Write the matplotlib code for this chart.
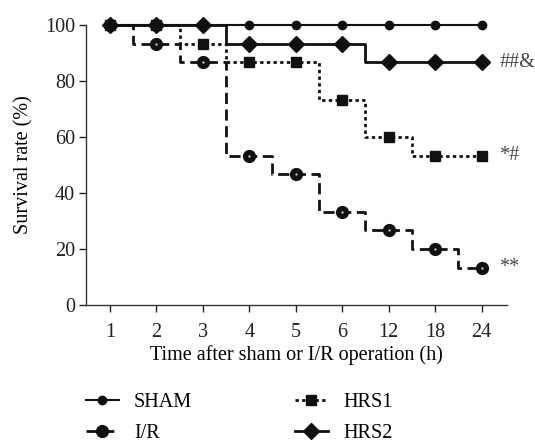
import matplotlib
matplotlib.use("Agg")
import matplotlib.pyplot as plt
from matplotlib.lines import Line2D

plt.rcParams['font.family'] = ['Liberation Serif', 'DejaVu Serif']

time_labels = ["1", "2", "3", "4", "5", "6", "12", "18", "24"]
sham = [100, 100, 100, 100, 100, 100, 100, 100, 100]
ir = [100, 93.3, 86.7, 53.3, 46.7, 33.3, 26.7, 20.0, 13.3]
hrs1 = [100, 100, 93.3, 86.7, 86.7, 73.3, 60.0, 53.3, 53.3]
hrs2 = [100, 100, 100, 93.3, 93.3, 93.3, 86.7, 86.7, 86.7]
annotations = {"##&": 86.7, "*#": 53.3, "**": 13.3}

x = list(range(1, len(time_labels) + 1))

FS = 14.5
fig = plt.figure(figsize=(5.35, 4.44), dpi=100)
ax = fig.add_axes([0.161, 0.313, 0.787, 0.631])

col = '#111111'
ax.plot(x, ir, drawstyle='steps-mid', color=col, lw=2.0, ls=(0, (4, 2)),
        marker='o', ms=8.5, mfc=col, mec=col, clip_on=False, zorder=3)
ax.plot(x, ir, ls='none', marker='.', ms=1.5, color='#bbbbbb', clip_on=False, zorder=4)
ax.plot(x, hrs1, drawstyle='steps-mid', color=col, lw=2.0, ls=(0, (1.2, 1.2)),
        marker='s', ms=7, mfc=col, mec=col, clip_on=False, zorder=3)
ax.plot(x, hrs2, drawstyle='steps-mid', color=col, lw=2.0, ls='-',
        marker='D', ms=8.5, mfc=col, mec=col, clip_on=False, zorder=3)
ax.plot(x, sham, drawstyle='steps-mid', color=col, lw=1.5, ls='-',
        marker='o', ms=6, mfc=col, mec=col, clip_on=False, zorder=5)

for txt, yv in annotations.items():
    ax.text(9.38, yv, txt, ha='left', va='center', fontsize=FS, color='#444444')

ax.set_xlim(0.49, 9.55)
ax.set_ylim(0, 100)
ax.set_xticks(x)
ax.set_xticklabels(time_labels)
ax.set_yticks([0, 20, 40, 60, 80, 100])
ax.tick_params(direction='out', length=5, width=1, labelsize=FS, colors='#222222', pad=3)
ax.tick_params(axis='x', pad=8)
for s in ['top', 'right']:
    ax.spines[s].set_visible(False)
for s in ['left', 'bottom']:
    ax.spines[s].set_linewidth(1)
    ax.spines[s].set_color('#333333')
ax.set_xlabel("Time after sham or I/R operation (h)", fontsize=FS, labelpad=2)
ax.set_ylabel("Survival rate (%)", fontsize=FS, labelpad=8)

handles = [
    Line2D([], [], color=col, lw=1.5, marker='o', ms=6),
    Line2D([], [], color=col, lw=2, ls=(0, (4, 2)), marker='o', ms=8.5),
    Line2D([], [], color=col, lw=2, ls=(0, (1.2, 1.2)), marker='s', ms=7),
    Line2D([], [], color=col, lw=2, marker='D', ms=8.5),
]
labels = ["SHAM", "I/R", "HRS1", "HRS2"]
fig.legend(handles, labels, ncol=2, loc='lower left', bbox_to_anchor=(0.126, -0.038),
           frameon=False, fontsize=FS, handlelength=1.65, columnspacing=5.1,
           labelspacing=0.6, handletextpad=0.75)

fig.savefig("out.png", dpi=100)
